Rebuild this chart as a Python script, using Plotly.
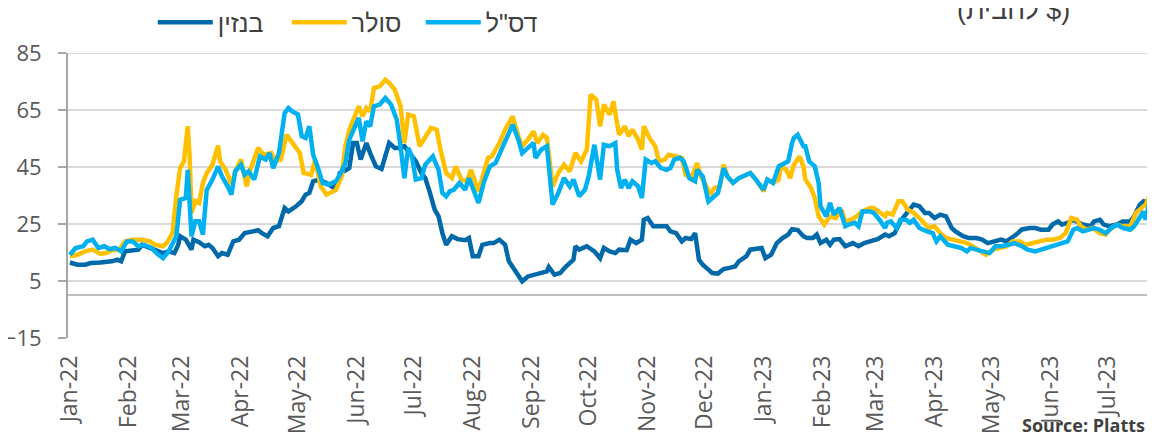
import pandas as pd
import plotly.graph_objects as go

START = "2022-01-01"

# (days since 1 Jan 2022, $ per barrel)
gasoline = [
    (0, 11.5), (4, 10.7), (8, 10.7), (11, 11.3), (16, 11.5), (22, 11.9), (25, 12.5), (27, 11.9),
    (29, 15.4), (33, 15.8), (36, 16), (38, 17.7), (42, 16.6), (45, 16), (49, 14.8), (52, 15.4),
    (55, 14.8), (57, 17.7), (58, 20.7), (61, 19.5), (64, 16), (65, 19.5), (68, 18.6), (71, 17.2),
    (73, 17.7), (75, 16.6), (78, 13.7), (80, 14.8), (83, 14.2), (86, 18.9), (89, 19.5), (92, 21.8),
    (96, 22.4), (99, 22.8), (101, 21.8), (104, 20.7), (107, 23.6), (110, 24.2), (113, 30.6),
    (115, 29.4), (119, 31.2), (122, 33), (124, 35.3), (126, 35.9), (128, 40), (131, 40.6),
    (135, 39.4), (139, 37.6), (141, 39.4), (142, 42.9), (145, 43.8),
    (147, 44.6), (149, 53.4), (151, 53.4), (153, 47.6), (156, 53.4), (158, 49.9), (161, 45.2),
    (164, 44.3), (166, 48.7), (168, 53.4), (171, 51.7), (173, 51.7), (176, 52.3), (179, 49.3),
    (182, 47), (185, 42.9), (187, 41.1), (189, 37), (192, 30), (194, 27.7), (196, 21.8),
    (198, 17.7), (201, 20.7), (204, 19.7), (208, 19.3), (210, 20.1), (212, 13.7), (215, 13.7),
    (217, 17.7), (221, 18.3), (223, 18.3), (226, 19.5), (229, 17.7), (231, 11.9), (235, 7.8),
    (238, 4.9), (241, 6.6), (244, 7.2), (247, 7.8), (251, 8.4), (252, 9.9), (255, 7.2),
    (258, 7.8), (261, 10.1), (265, 12.5), (266, 17.2), (268, 16), (272, 17.2), (276, 15.4),
    (279, 13), (281, 16.6), (284, 15.4),
    (287, 14.8), (289, 16), (293, 15.8), (295, 19.5), (298, 18.3), (301, 19.5), (302, 26.5),
    (304, 27.1), (307, 24.2), (310, 24.2), (314, 24.2), (316, 22.4), (319, 21.8), (322, 18.9),
    (324, 20.1), (327, 19.7), (329, 21.8), (331, 12.5), (333, 10.7), (336, 9), (338, 7.8),
    (341, 7.6), (344, 9.2), (347, 9.6), (350, 10.1), (352, 11.9), (356, 13.7), (358, 16),
    (361, 16.2), (364, 16.6), (366, 13), (369, 14.2), (372, 18.3), (375, 20.1), (378, 21.3),
    (380, 23.2), (383, 22.9), (386, 20.7), (388, 20.1), (391, 20.1), (393, 21.3), (395, 18.3),
    (398, 19.5), (400, 17.7), (402, 19.5), (405, 19.7), (408, 17.2), (412, 18.3), (415, 17.2),
    (418, 18.3), (421, 18.9), (425, 19.7), (429, 21.3),
    (431, 20.7), (434, 21.8), (437, 25.9), (439, 27.7), (442, 30), (444, 31.8), (447, 31.2),
    (450, 28.9), (452, 28.9), (455, 27.1), (458, 28.3), (461, 27.7), (464, 23.6), (466, 22.4),
    (470, 20.7), (473, 20.1), (477, 20.1), (480, 19.5), (483, 18.3), (487, 18.9), (490, 19.5),
    (493, 18.9), (494, 19.5), (498, 21.3), (501, 23.1), (505, 23.6), (508, 23.6), (511, 23),
    (515, 23), (517, 24.8), (520, 25.9), (522, 24.8), (525, 25.4), (528, 26.5), (530, 25.9),
    (533, 24.8), (537, 24.2), (539, 25.9), (542, 26.5), (544, 24.8), (547, 24.2), (551, 24.8),
    (554, 25.9), (558, 25.9), (560, 27.7), (563, 31.8), (565, 33), (568, 32.4), (570, 33.6),
]

diesel = [
    (0, 13.7), (4, 14.2), (8, 15.4), (12, 16), (16, 14.5), (19, 14.8), (22, 15.8), (26, 16),
    (29, 18.9), (33, 19.5), (38, 19.5), (42, 18.9), (45, 17.7), (49, 17.2), (51, 18.4),
    (54, 21.8), (56, 34.7), (58, 44.6), (60, 47), (62, 59.3), (63, 48.7), (64, 28.9), (66, 33),
    (68, 32.4), (70, 39.4), (72, 42.9), (75, 45.8), (78, 52.5), (79, 47), (82, 44), (85, 38.8),
    (87, 43.5), (90, 47.6), (93, 38.2), (95, 44), (99, 51.7), (102, 49.3), (106, 49.9),
    (108, 47), (111, 47.6), (114, 56.3), (117, 53.4), (121, 49.9), (123, 42.9), (127, 42.3),
    (129, 47.6), (132, 38.2), (135, 35.3), (138, 36.5), (140, 37), (143, 41.7), (145, 52.3),
    (147, 58), (152, 66.3), (154, 62.8), (156, 65.7), (158, 64.5), (160, 72.7), (163, 73.3),
    (166, 75.6), (168, 74.5), (171, 72.1), (174, 66.3), (176, 53.4), (178, 63.4), (181, 62.8),
    (184, 52.3), (186, 54.6), (190, 58.7), (193, 58.1), (195, 51.1), (198, 42.9), (201, 41.1),
    (203, 45.2), (206, 40.6), (209, 40), (211, 44), (215, 36.5), (217, 41.7), (220, 48.2),
    (222, 48.7), (226, 53.4), (229, 58.1), (233, 62.8), (236, 55.8), (238, 52.3), (241, 54.6),
    (244, 57.5), (246, 53.4), (249, 56.3), (251, 55.2), (254, 38.2), (257, 42.9), (260, 45.8),
    (263, 43.5), (266, 49.9), (269, 47), (272, 51.1), (274, 70.4), (277, 68.6), (279, 59.3),
    (281, 66.9), (284, 63.4), (286, 68),
    (289, 56.3), (292, 59.3), (294, 55.8), (296, 58.1), (299, 54.6), (301, 51.1), (302, 59.3),
    (305, 55.2), (308, 52.3), (310, 47), (313, 47.6), (315, 49.3), (319, 48.7), (322, 48.2),
    (324, 42.3), (327, 41.1), (330, 46.4), (332, 41.7), (335, 38.2), (337, 35.3), (339, 37.6),
    (342, 38.2), (344, 45.8), (346, 41.7), (349, 39.4), (352, 41.1), (356, 42.3), (358, 42.9),
    (361, 40.6), (365, 36.5), (367, 40.6), (370, 39.4), (373, 40.6), (374, 45.2), (377, 44),
    (379, 41.1), (381, 45.8), (384, 48.7), (386, 45.2), (387, 40.6), (390, 37.6), (392, 34.1),
    (394, 27.7), (397, 24.8), (400, 27.7), (403, 27.1), (406, 30), (408, 25.9), (411, 26.5),
    (414, 27.7), (417, 29.4), (421, 30.6), (423, 30.6), (426, 28.9), (429, 27.7),
    (430, 28.9), (433, 28.3), (436, 33), (438, 33), (441, 30), (444, 28.9), (447, 27.1),
    (450, 24.8), (452, 23.6), (455, 24.2), (458, 21.8), (461, 20.1), (465, 19.5), (468, 18.9),
    (472, 18.3), (475, 17.2), (479, 15.4), (482, 14.2), (486, 16), (489, 16.6), (493, 17.2),
    (496, 18.9), (500, 18.9), (503, 17.7), (507, 18.3), (510, 18.9), (514, 19.5), (517, 19.5),
    (521, 20.1), (524, 21.8), (527, 27.1), (530, 26.5), (532, 24.2), (535, 23), (538, 23.6),
    (542, 21.8), (545, 21.3), (548, 23.6), (551, 24.8), (554, 24.2), (558, 24.2), (561, 28.9),
    (564, 30.6), (566, 31.8), (568, 34.7), (570, 35.3),
]

jet_fuel = [
    (0, 14.2), (3, 16.6), (7, 17.2), (9, 18.9), (12, 19.5), (15, 16.6), (18, 17.2), (21, 16.2),
    (24, 16.6), (27, 15.4), (30, 18.9), (33, 18.9), (36, 17.2), (39, 17.7), (43, 16.6),
    (46, 14.5), (49, 13), (52, 15.4), (56, 20.7), (58, 33.5), (61, 34.1), (62, 44), (64, 20.7),
    (66, 26), (68, 26), (70, 21.3), (72, 37), (75, 40.6), (78, 45.2), (80, 41.7), (83, 38.2),
    (85, 35.3), (87, 43.5), (90, 45.8), (92, 42.3), (94, 43.5), (97, 40.6), (100, 48.7),
    (103, 47.6), (105, 49.9), (107, 44.6), (110, 49.9), (113, 63.9), (115, 65.7), (117, 64.5),
    (120, 63.4), (122, 55.8), (124, 55.2), (126, 59.3), (128, 49.3), (130, 45.8), (133, 39.4),
    (136, 38.8), (140, 40), (143, 43.5), (145, 46.4),
    (147, 54.6), (150, 58.7), (152, 62.2), (154, 54), (156, 61), (158, 59.3), (160, 66.3),
    (163, 66.9), (166, 69.2), (169, 66.9), (172, 61.6), (174, 52.3), (176, 41.1), (178, 51.7),
    (180, 48.7), (182, 40.6), (185, 41.1), (187, 45.8), (191, 48.7), (194, 44), (196, 35.9),
    (198, 34.7), (200, 36.5), (202, 37), (205, 39.4), (208, 37), (210, 41.1), (213, 35.9),
    (215, 32.4), (218, 40), (221, 45.2), (224, 46.4), (227, 51.1), (230, 55.2), (233, 59.9),
    (236, 54.6), (238, 49.9), (241, 51.7), (244, 53.4), (245, 48.2), (248, 51.1), (251, 52.3),
    (254, 31.8), (257, 35.9), (260, 41.1), (263, 38.2), (265, 40.6), (268, 34.7), (271, 37),
    (273, 41.7), (276, 52.8), (279, 40.6), (281, 52.8), (284, 52.3), (287, 53.4),
    (288, 44), (290, 37.6), (292, 40.6), (294, 37.6), (296, 40), (299, 38.2), (301, 34.1),
    (303, 47.6), (306, 46.4), (308, 47), (311, 44.6), (314, 44), (316, 44.6), (318, 47.6),
    (321, 48.2), (323, 47), (326, 41.1), (329, 40), (330, 44), (333, 41.7), (336, 32.9),
    (338, 34.1), (341, 35.9), (344, 44.6), (346, 41.7), (349, 39.4), (352, 41.1), (356, 42.3),
    (358, 42.9), (361, 40.6), (365, 37), (367, 40.6), (370, 39.4), (373, 45.2), (375, 45.8),
    (378, 47), (380, 53.4), (381, 55.2), (383, 56.3), (386, 52.3), (387, 52.3), (389, 47),
    (392, 45.2), (394, 39.4), (395, 31.2), (398, 27.7), (400, 32.4), (402, 28.3), (405, 30.6),
    (408, 24.2), (410, 24.8), (413, 25.4), (415, 24.2), (417, 29.4), (421, 29.4), (423, 28.9),
    (426, 26.5), (429, 23.6),
    (430, 25.4), (432, 25.9), (435, 23.6), (437, 26.5), (440, 26.5), (442, 25.4), (444, 26.5),
    (447, 23.6), (451, 22.4), (454, 21.8), (456, 18.9), (458, 20.7), (462, 17.7), (465, 17.2),
    (469, 16.6), (472, 15.4), (474, 16.6), (477, 16), (480, 15.4), (484, 14.8), (487, 17.2),
    (490, 17.2), (494, 17.7), (497, 18.3), (501, 17.2), (504, 16), (508, 15.4), (511, 16),
    (515, 16.6), (518, 17.4), (522, 18.3), (525, 18.9), (528, 23), (530, 23.6), (533, 22.4),
    (536, 23), (539, 23.6), (542, 23), (545, 21.8), (548, 23.6), (551, 24.8), (554, 23.6),
    (558, 23), (560, 24.2), (563, 27.7), (565, 29.4), (566, 26.5), (568, 32.4), (570, 34.1),
]

series_names = ["בנזין", "סולר", 'דס"ל']
series_colors = ["#0069AA", "#FFC000", "#00B0F0"]
y_ticks = [-15, 5, 25, 45, 65, 85]
grid_values = [5, 25, 45, 65, 85]
unit_label = "(לחבית $)"
source_label = "Source: Platts"

FONT = "Open Sans"
HEB = "Liberation Sans"
TXT = "#595959"
AX = "#A6A6A6"


def to_xy(pairs):
    days, vals = zip(*pairs)
    dates = pd.Timestamp(START) + pd.to_timedelta(list(days), unit="D")
    return list(dates), list(vals)


fig = go.Figure()
for data, name, color in zip([gasoline, diesel, jet_fuel], series_names, series_colors):
    x, y = to_xy(data)
    fig.add_trace(go.Scatter(x=x, y=y, mode="lines", name=name,
                             line=dict(color=color, width=4.5)))

shapes = [dict(type="line", xref="paper", x0=0, x1=1, yref="y", y0=v, y1=v,
               line=dict(color="#D9D9D9", width=2), layer="below") for v in grid_values]

# the page body adds an 8px offset, so the figure is 8px smaller and its margins shifted
fig.update_layout(
    width=1147, height=431,
    margin=dict(l=60, r=0, t=45, b=101, autoexpand=False),
    paper_bgcolor="white", plot_bgcolor="white",
    font=dict(family=FONT, color=TXT),
    shapes=shapes,
    showlegend=True,
    legend=dict(orientation="h", x=0.078, xanchor="left", y=1.107, yanchor="middle",
                font=dict(size=25, color="#404040", family=HEB),
                bgcolor="rgba(0,0,0,0)", itemwidth=55,
                entrywidth=64, entrywidthmode="pixels"),
    xaxis=dict(type="date", range=["2021-12-31", "2023-07-26"], automargin=False,
               showgrid=False, showline=False, zeroline=False, ticks="",
               tickformat="%b-%y", dtick="M1", tick0="2022-01-01", tickangle=-90,
               tickfont=dict(size=23, color=TXT, family=FONT), ticklabelstandoff=12),
    yaxis=dict(range=[-15, 85], tickvals=y_ticks, showgrid=False, automargin=False,
               zeroline=True, zerolinecolor="#BFBFBF", zerolinewidth=2,
               showline=True, linecolor=AX, linewidth=2,
               ticks="outside", ticklen=8, tickwidth=2, tickcolor=AX,
               tickfont=dict(size=22, color=TXT, family=FONT), ticklabelstandoff=12),
    annotations=[
        dict(text=unit_label, xref="paper", yref="paper", x=0.87, y=1.15,
             xanchor="center", yanchor="middle", showarrow=False,
             font=dict(size=27, color="#404040", family=HEB)),
        dict(text="<b>" + source_label + "</b>", xref="paper", yref="paper", x=0.9926, y=-0.305,
             xanchor="right", yanchor="middle", showarrow=False,
             font=dict(size=18, color="#404040", family=FONT)),
    ],
)

fig.write_html("out.html")
